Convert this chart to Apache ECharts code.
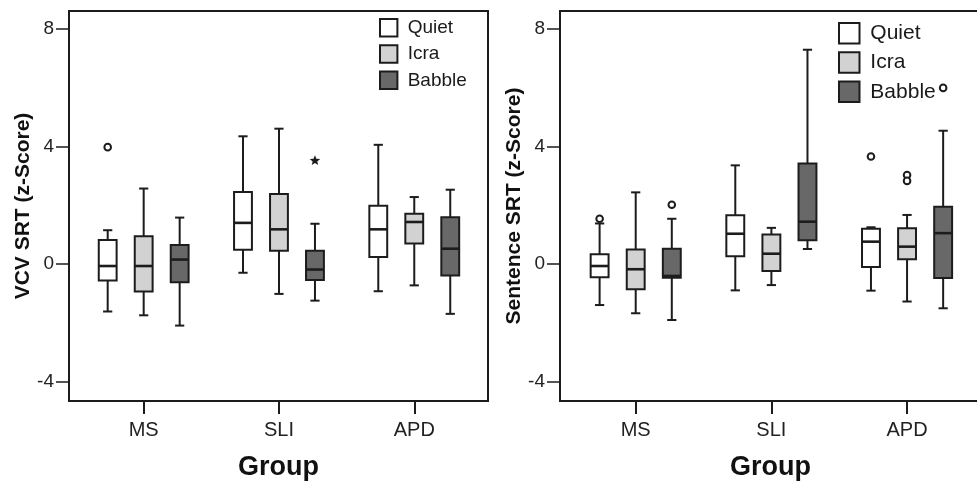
<!DOCTYPE html>
<html><head><meta charset="utf-8">
<script src="https://cdn.jsdelivr.net/npm/echarts@6/dist/echarts.min.js"></script>
<style>html,body{margin:0;padding:0;background:#fff}#c{width:977px;height:484px}</style>
</head><body><div id="c"></div>
<script>
// ---- data ----
const groups = ['MS', 'SLI', 'APD'];
const conditions = ['Quiet', 'Icra', 'Babble'];
const yTicks = [-4, 0, 4, 8];
// each row: [lower whisker, Q1, median, Q3, upper whisker] for MS, SLI, APD
const vcvQuiet  = [[-1.62, -0.56, -0.07, 0.82, 1.15], [-0.30, 0.48, 1.40, 2.45, 4.35], [-0.93, 0.24, 1.18, 1.98, 4.06]];
const vcvIcra   = [[-1.75, -0.94, -0.07, 0.94, 2.57], [-1.02, 0.45, 1.18, 2.38, 4.61], [-0.73, 0.70, 1.43, 1.71, 2.28]];
const vcvBabble = [[-2.10, -0.62, 0.15, 0.65, 1.58], [-1.25, -0.55, -0.19, 0.45, 1.37], [-1.70, -0.39, 0.52, 1.59, 2.53]];
const sentQuiet  = [[-1.40, -0.45, -0.07, 0.33, 1.38], [-0.90, 0.26, 1.03, 1.66, 3.36], [-0.91, -0.10, 0.76, 1.20, 1.25]];
const sentIcra   = [[-1.68, -0.86, -0.18, 0.49, 2.44], [-0.72, -0.24, 0.35, 1.00, 1.23], [-1.28, 0.16, 0.59, 1.22, 1.67]];
const sentBabble = [[-1.91, -0.47, -0.41, 0.52, 1.54], [0.51, 0.81, 1.44, 3.42, 7.30], [-1.51, -0.48, 1.05, 1.95, 4.54]];
// outliers: [group index, condition index, value, marker]
const vcvOutliers  = [[0, 0, 3.98, 'o'], [1, 2, 3.52, '*']];
const sentOutliers = [[0, 0, 1.54, 'o'], [0, 2, 2.02, 'o'], [2, 0, 3.66, 'o'], [2, 1, 3.03, 'o'], [2, 1, 2.83, 'o'], [2, 2, 6.00, 'o']];

// ---- styles ----
const FONT = '"Liberation Sans", Arial, Helvetica, sans-serif';
const INK = '#1c1c1c';
const fills = ['#ffffff', '#d2d2d2', '#686868'];
const condOffset = [-0.266, 0, 0.266];
const boxHalf = 0.066;
const capHalf = 0.034;

function boxRender(ci) {
  return function (params, api) {
    const xc = api.value(0) + condOffset[ci];
    const P = v => api.coord([xc, v]);
    const x0 = P(0)[0];
    const xL = api.coord([xc - boxHalf, 0])[0], xR = api.coord([xc + boxHalf, 0])[0];
    const cL = api.coord([xc - capHalf, 0])[0], cR = api.coord([xc + capHalf, 0])[0];
    const yLo = P(api.value(1))[1], yQ1 = P(api.value(2))[1], yMed = P(api.value(3))[1],
          yQ3 = P(api.value(4))[1], yHi = P(api.value(5))[1];
    const ls = { stroke: INK, lineWidth: 2 };
    return { type: 'group', children: [
      { type: 'line', shape: { x1: x0, y1: yQ3, x2: x0, y2: yHi }, style: ls },
      { type: 'line', shape: { x1: x0, y1: yQ1, x2: x0, y2: yLo }, style: ls },
      { type: 'line', shape: { x1: cL, y1: yHi, x2: cR, y2: yHi }, style: ls },
      { type: 'line', shape: { x1: cL, y1: yLo, x2: cR, y2: yLo }, style: ls },
      { type: 'rect', shape: { x: xL, y: yQ3, width: xR - xL, height: yQ1 - yQ3 }, style: { fill: fills[ci], stroke: INK, lineWidth: 2 } },
      { type: 'line', shape: { x1: xL, y1: yMed, x2: xR, y2: yMed }, style: { stroke: INK, lineWidth: 2.6 } }
    ] };
  };
}
function outlierRender(list) {
  return function (params, api) {
    const o = list[params.dataIndex];
    const p = api.coord([api.value(0) + condOffset[o[1]], api.value(1)]);
    if (o[3] === '*') {
      const pts = [];
      for (let k = 0; k < 10; k++) {
        const r = k % 2 === 0 ? 5.5 : 2.4;
        const a = -Math.PI / 2 + k * Math.PI / 5;
        pts.push([p[0] + r * Math.cos(a), p[1] + r * Math.sin(a)]);
      }
      return { type: 'polygon', shape: { points: pts }, style: { fill: INK } };
    }
    return { type: 'circle', shape: { cx: p[0], cy: p[1], r: 3.3 }, style: { fill: '#fff', stroke: INK, lineWidth: 2 } };
  };
}

const panels = [
  { sets: [vcvQuiet, vcvIcra, vcvBabble], outl: vcvOutliers, title: 'VCV SRT (z-Score)',
    grid: { left: 69, width: 419, top: 11, height: 390 }, xmin: -0.552, xmax: 2.545,
    legend: { left: 379, top: 18, size: 17.4, gap: 6.9, font: 19 } },
  { sets: [sentQuiet, sentIcra, sentBabble], outl: sentOutliers, title: 'Sentence SRT (z-Score)',
    grid: { left: 560, width: 421, top: 11, height: 390 }, xmin: -0.558, xmax: 2.545,
    legend: { left: 838, top: 22, size: 20.5, gap: 6.8, font: 21 } }
];

const option = { animation: false, backgroundColor: '#fff', grid: [], xAxis: [], yAxis: [], series: [], legend: [] };
panels.forEach((pn, pi) => {
  option.grid.push(Object.assign({ show: true, borderColor: INK, borderWidth: 2, containLabel: false, outerBoundsMode: 'none' }, pn.grid));
  option.xAxis.push({
    type: 'value', gridIndex: pi, min: pn.xmin, max: pn.xmax, position: 'bottom',
    axisLine: { show: true, onZero: false, lineStyle: { color: INK, width: 2 } },
    axisTick: { show: true, customValues: [0, 1, 2], length: 13, lineStyle: { color: INK, width: 2 } },
    axisLabel: { customValues: [0, 1, 2], formatter: v => groups[Math.round(v)], fontSize: 20, margin: 19, color: '#222', fontFamily: FONT },
    splitLine: { show: false },
    name: 'Group', nameLocation: 'middle', nameGap: 53,
    nameTextStyle: { fontSize: 27, fontWeight: 'bold', color: '#111', fontFamily: FONT }
  });
  option.yAxis.push({
    type: 'value', gridIndex: pi, min: -4.67, max: 8.62, position: 'left',
    axisLine: { show: true, onZero: false, lineStyle: { color: INK, width: 2 } },
    axisTick: { show: true, customValues: yTicks, length: 13, lineStyle: { color: INK, width: 1.5 } },
    axisLabel: { customValues: yTicks, fontSize: 19, margin: 15, color: '#222', fontFamily: FONT },
    splitLine: { show: false },
    name: pn.title, nameLocation: 'middle', nameRotate: 90, nameGap: 34,
    nameTextStyle: { fontSize: 21, fontWeight: 'bold', color: '#111', fontFamily: FONT }
  });
  conditions.forEach((c, ci) => {
    option.series.push({
      type: 'custom', name: c, xAxisIndex: pi, yAxisIndex: pi,
      itemStyle: { color: fills[ci], borderColor: INK },
      encode: { x: 0, y: [1, 2, 3, 4, 5] },
      data: pn.sets[ci].map((d, gi) => [gi].concat(d)),
      renderItem: boxRender(ci), z: 3
    });
  });
  option.series.push({
    type: 'custom', name: 'outliers' + pi, xAxisIndex: pi, yAxisIndex: pi,
    encode: { x: 0, y: 1 },
    data: pn.outl.map(o => [o[0], o[2]]),
    renderItem: outlierRender(pn.outl), z: 4
  });
  const L = pn.legend;
  option.legend.push({
    orient: 'vertical', left: L.left, top: L.top, itemWidth: L.size, itemHeight: L.size, itemGap: L.gap,
    selectedMode: false, padding: 0,
    textStyle: { fontSize: L.font, lineHeight: L.size, color: '#1a1a1a', fontFamily: FONT },
    formatter: n => ' ' + n,
    data: conditions.map((c, ci) => ({ name: c, icon: 'rect', itemStyle: { color: fills[ci], borderColor: INK, borderWidth: 2 } }))
  });
});

const chart = echarts.init(document.getElementById('c'), null, { renderer: 'canvas' });
chart.setOption(option);
</script></body></html>
